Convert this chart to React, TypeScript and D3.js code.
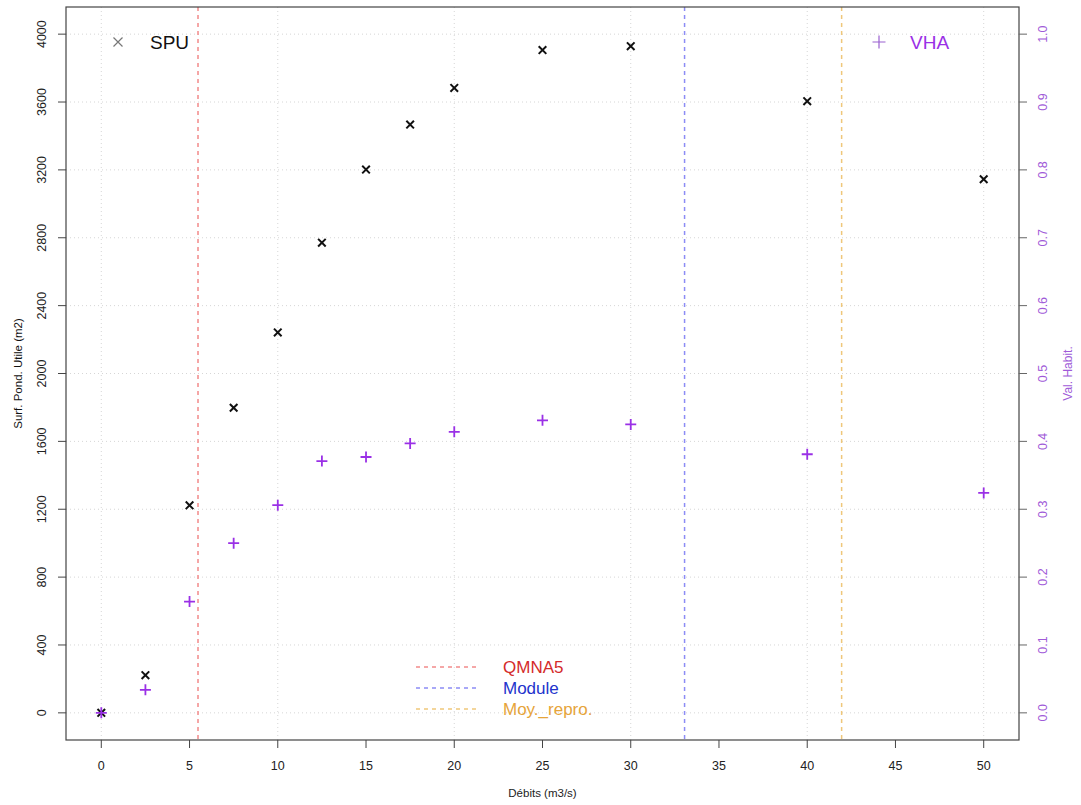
import React from "react";
import * as d3 from "d3";

const debits = [0, 2.5, 5, 7.5, 10, 12.5, 15, 17.5, 20, 25, 30, 40, 50];
const spu = [0, 222, 1223, 1798, 2242, 2771, 3202, 3467, 3683, 3906, 3929, 3605, 3145];
const vha = [0, 0.034, 0.164, 0.25, 0.306, 0.371, 0.377, 0.397, 0.414, 0.431, 0.425, 0.381, 0.324];
const xTicks = [0, 5, 10, 15, 20, 25, 30, 35, 40, 45, 50];
const xGrid = [0, 10, 20, 30, 40, 50];
const yLeftTicks = [0, 400, 800, 1200, 1600, 2000, 2400, 2800, 3200, 3600, 4000];
const yRightTicks = [0, 0.1, 0.2, 0.3, 0.4, 0.5, 0.6, 0.7, 0.8, 0.9, 1.0];
const refLines = [
  { name: "QMNA5", value: 5.48, line: "#f28a8a", text: "#d42a2a" },
  { name: "Module", value: 33.05, line: "#8c8cf5", text: "#2233cc" },
  { name: "Moy._repro.", value: 41.95, line: "#efc77a", text: "#e6a43a" },
];

const W = 1081;
const H = 805;
const L = 66, R = 1019, T = 7, B = 740;
const PURPLE = "#9a30e6";
const FONT = "Liberation Sans, Arial, sans-serif";

export default function App() {
  const x = d3.scaleLinear().domain([-2, 52]).range([L, R]);
  const yL = d3.scaleLinear().domain([-160, 4160]).range([B, T]);
  const yR = d3.scaleLinear().domain([-0.04, 1.04]).range([B, T]);

  const cross = (cx: number, cy: number, s: number) =>
    `M${cx - s},${cy - s}L${cx + s},${cy + s}M${cx - s},${cy + s}L${cx + s},${cy - s}`;
  const plus = (cx: number, cy: number, s: number) =>
    `M${cx - s},${cy}L${cx + s},${cy}M${cx},${cy - s}L${cx},${cy + s}`;

  return (
    <svg width={W} height={H} style={{ position: "absolute", left: 0, top: 0, background: "#fff" }} fontFamily={FONT}>
      {/* grid */}
      <g stroke="#d6d6d6" strokeWidth={1} strokeDasharray="1,3">
        {xGrid.map((v) => (
          <line key={"gx" + v} x1={x(v)} x2={x(v)} y1={T} y2={B} />
        ))}
        {yLeftTicks.map((v) => (
          <line key={"gy" + v} x1={L} x2={R} y1={yL(v)} y2={yL(v)} />
        ))}
      </g>

      {/* reference vertical lines */}
      {refLines.map((r) => (
        <line key={r.name} x1={x(r.value)} x2={x(r.value)} y1={T} y2={B} stroke={r.line} strokeWidth={1.5} strokeDasharray="4,4" />
      ))}

      {/* SPU points */}
      {debits.map((d, i) => (
        <path key={"s" + i} d={cross(x(d), yL(spu[i]), 3.8)} stroke="#111" strokeWidth={2} fill="none" />
      ))}
      {/* VHA points */}
      {debits.map((d, i) => (
        <path key={"v" + i} d={plus(x(d), yR(vha[i]), 5.5)} stroke={PURPLE} strokeWidth={1.8} fill="none" />
      ))}

      {/* box */}
      <rect x={L} y={T} width={R - L} height={B - T} fill="none" stroke="#444" strokeWidth={1.2} />

      {/* bottom axis */}
      {xTicks.map((v) => (
        <g key={"xt" + v}>
          <line x1={x(v)} x2={x(v)} y1={B} y2={B + 8} stroke="#444" />
          <text x={x(v)} y={B + 30} textAnchor="middle" fontSize={12.5} fill="#222">
            {v}
          </text>
        </g>
      ))}
      <text x={(L + R) / 2} y={797} textAnchor="middle" fontSize={11.5} fill="#222">
        Débits (m3/s)
      </text>

      {/* left axis */}
      {yLeftTicks.map((v) => (
        <g key={"yl" + v}>
          <line x1={L - 8} x2={L} y1={yL(v)} y2={yL(v)} stroke="#444" />
          <text transform={`translate(${46},${yL(v)}) rotate(-90)`} textAnchor="middle" fontSize={12.5} fill="#222">
            {v}
          </text>
        </g>
      ))}
      <text transform={`translate(${22},${(T + B) / 2}) rotate(-90)`} textAnchor="middle" fontSize={11.5} fill="#111">
        Surf. Pond. Utile (m2)
      </text>

      {/* right axis */}
      {yRightTicks.map((v) => (
        <g key={"yr" + v}>
          <line x1={R} x2={R + 8} y1={yR(v)} y2={yR(v)} stroke="#666" />
          <text transform={`translate(${1047},${yR(v)}) rotate(-90)`} textAnchor="middle" fontSize={12.5} fill="#a05ad8">
            {v.toFixed(1)}
          </text>
        </g>
      ))}
      <text transform={`translate(${1072},${(T + B) / 2}) rotate(-90)`} textAnchor="middle" fontSize={12} fill="#a05ad8">
        Val. Habit.
      </text>

      {/* legend SPU */}
      <path d={cross(118, 42, 4.5)} stroke="#777" strokeWidth={1.2} fill="none" />
      <text x={150} y={49} fontSize={19} fill="#111">SPU</text>
      {/* legend VHA */}
      <path d={plus(879, 42, 6.5)} stroke="#9a60d0" strokeWidth={1.2} fill="none" />
      <text x={910} y={49} fontSize={19} fill={PURPLE}>VHA</text>

      {/* reference legend */}
      {refLines.map((r, i) => (
        <g key={"lg" + r.name}>
          <line x1={416} x2={477} y1={667 + i * 21} y2={667 + i * 21} stroke={r.line} strokeWidth={1.5} strokeDasharray="4,4" />
          <text x={503} y={673 + i * 21} fontSize={17} fill={r.text}>
            {r.name}
          </text>
        </g>
      ))}
    </svg>
  );
}
